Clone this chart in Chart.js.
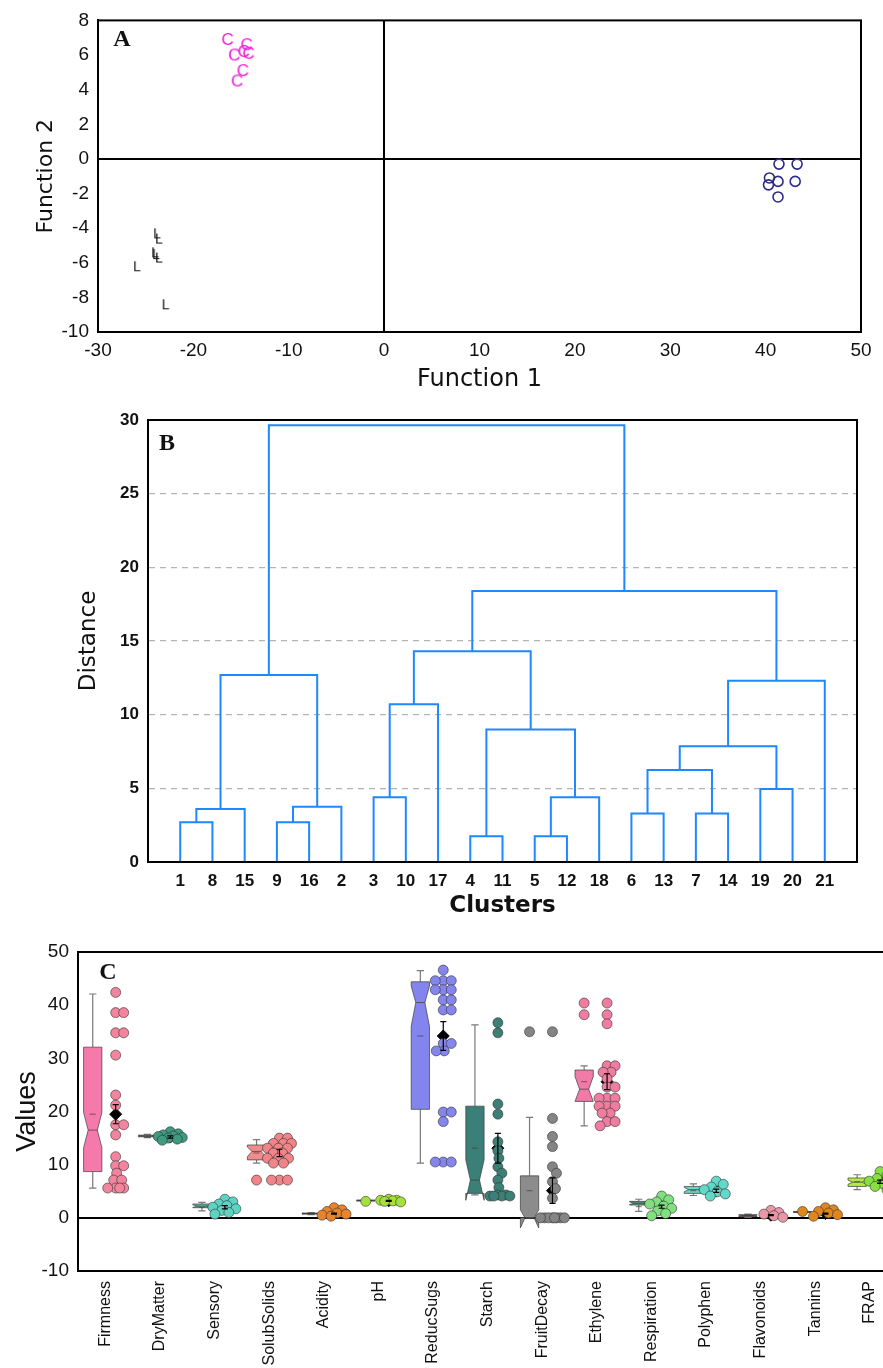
<!DOCTYPE html>
<html lang="en">
<head>
<meta charset="UTF-8">
<title>Discriminant scores, cluster tree and variable distributions</title>
<script src="https://cdn.jsdelivr.net/npm/chart.js"></script>
<style>
  html, body { margin: 0; padding: 0; background: #fff; }
  body { width: 883px; height: 1368px; overflow: hidden; position: relative; }
  .panel { position: absolute; left: 0; }
  .panel canvas { display: block; }
  #panelA { top: 0; }
  #panelB { top: 395px; }
  #panelC { top: 920px; }
</style>
</head>
<body>
<div class="panel" id="panelA"><canvas id="chartA" width="883" height="395"></canvas></div>
<div class="panel" id="panelB"><canvas id="chartB" width="883" height="525"></canvas></div>
<div class="panel" id="panelC"><canvas id="chartC" width="905" height="448"></canvas></div>

<script>
// ---------- Panel A: discriminant function scores ----------
const groupCX = [-16.4, -14.4, -14.2, -15.7, -14.7, -14.8, -15.4];
const groupCY = [6.9, 6.6, 6.1, 6.0, 6.2, 5.1, 4.5];
const groupLX = [-23.8, -23.6, -23.9, -23.6, -25.9, -22.9, -24.0];
const groupLY = [-4.3, -4.6, -5.5, -5.7, -6.2, -8.4, -5.4];
const groupOX = [41.4, 43.3, 40.4, 41.3, 40.3, 43.1, 41.3];
const groupOY = [-0.3, -0.3, -1.1, -1.3, -1.5, -1.3, -2.2];
const function1Ticks = [-30, -20, -10, 0, 10, 20, 30, 40, 50];
const function2Ticks = [-10, -8, -6, -4, -2, 0, 2, 4, 6, 8];

// ---------- Panel B: dendrogram ----------
const clusterOrder = ['1', '8', '15', '9', '16', '2', '3', '10', '17', '4', '11', '5', '12', '18', '6', '13', '7', '14', '19', '20', '21'];
const mergeLeft   = ['1', 'm0', '9', 'm2', 'm1', '3', 'm5', '4', '5', 'm8', 'm7', 'm6', '6', '7', 'm12', '19', 'm14', 'm16', 'm11', 'm4'];
const mergeRight  = ['8', '15', '16', '2', 'm3', '10', '17', '11', '12', '18', 'm9', 'm10', '13', '14', 'm13', '20', 'm15', '21', 'm17', 'm18'];
const mergeHeight = [2.7, 3.6, 2.7, 3.75, 12.7, 4.4, 10.7, 1.75, 1.75, 4.4, 9.0, 14.3, 3.3, 3.3, 6.25, 4.95, 7.85, 12.3, 18.4, 29.65];
const distanceTicks = [0, 5, 10, 15, 20, 25, 30];

// ---------- Panel C: box plots + dot swarms ----------
const categories = ['Firmness', 'DryMatter', 'Sensory', 'SolubSolids', 'Acidity', 'pH', 'ReducSugs', 'Starch',
                    'FruitDecay', 'Ethylene', 'Respiration', 'Polyphen', 'Flavonoids', 'Tannins', 'FRAP'];
const boxQ1       = [8.7, 15.25, 1.9, 10.9, 0.7, 3.15, 20.4, 4.6, 0.0, 21.9, 2.4, 4.6, 0.2, 1.0, 5.9];
const boxMedian   = [16.5, 15.4, 2.2, 12.5, 0.8, 3.25, 40.5, 7.1, 0.0, 24.2, 2.75, 5.3, 0.4, 1.1, 6.7];
const boxQ3       = [32.1, 15.55, 2.6, 13.7, 0.9, 3.35, 44.4, 21.0, 7.9, 27.8, 3.1, 5.9, 0.6, 1.2, 7.5];
const whiskerLow  = [5.6, 15.1, 1.3, 10.3, 0.6, 3.1, 10.3, 4.3, 0.0, 17.3, 1.2, 4.2, 0.1, 0.95, 5.3];
const whiskerHigh = [42.1, 15.7, 2.9, 14.7, 1.0, 3.4, 46.5, 36.3, 18.9, 28.6, 3.5, 6.4, 0.7, 1.25, 8.1];
const notchLow    = [13.2, 15.3, 1.95, 11.5, 0.75, 3.2, 36.0, 3.3, -1.9, 21.9, 2.5, 4.9, 0.3, 1.05, 6.3];
const notchHigh   = [19.8, 15.5, 2.45, 13.3, 0.85, 3.3, 43.6, 10.9, 1.5, 26.6, 3.0, 5.7, 0.5, 1.15, 7.1];
const meanValues  = [19.5, 15.2, 2.0, 12.2, 0.8, 3.2, 34.2, 13.1, 5.1, 25.6, 2.1, 5.1, 0.5, 0.8, 6.8];
const meanErrors  = [1.8, 0.2, 0.3, 0.7, 0.1, 0.1, 2.7, 2.8, 2.4, 1.5, 0.3, 0.3, 0.1, 0.1, 0.3];
const outlierCategory = [3, 5, 8, 9, 9, 13];
const outlierValues   = [7.1, 3.1, 35.0, 40.4, 38.2, 1.2];

const firmnessDots    = [42.4, 38.6, 38.6, 34.8, 34.8, 30.6, 23.1, 21.2, 17.5, 17.5, 15.6, 11.5, 9.8, 9.8, 8.4, 7.1, 7.1, 5.6, 5.6, 5.6, 5.6];
const dryMatterDots   = [16.2, 15.8, 15.6, 15.4, 15.3, 15.1, 15.0, 14.8, 14.6];
const sensoryDots     = [3.5, 3.0, 2.6, 2.3, 2.0, 1.7, 1.4, 1.0, 0.7];
const solubSolidsDots = [15.0, 15.0, 14.0, 14.0, 14.0, 13.1, 13.1, 13.1, 12.2, 12.2, 11.2, 11.2, 11.2, 10.3, 10.3, 7.1, 7.1, 7.1];
const acidityDots     = [1.9, 1.5, 1.2, 0.9, 0.7, 0.5, 0.3];
const phDots          = [3.5, 3.3, 3.3, 3.2, 3.1, 3.0];
const reducSugsDots   = [46.6, 44.6, 44.6, 44.6, 42.9, 42.9, 42.9, 41.0, 41.0, 39.1, 39.1, 32.8, 32.8, 31.4, 31.4, 19.9, 19.9, 18.1, 10.5, 10.5, 10.5];
const starchDots      = [36.7, 34.8, 21.4, 19.5, 14.3, 12.6, 11.2, 9.6, 8.4, 7.1, 5.7, 4.3, 4.3, 4.1, 4.1, 4.1, 4.1];
const fruitDecayDots  = [35.0, 18.7, 15.3, 13.4, 9.6, 8.4, 6.8, 5.5, 3.7, 0, 0, 0, 0, 0, 0, 0, 0];
const ethyleneDots    = [40.4, 38.2, 36.5, 28.6, 28.6, 27.4, 27.4, 26.2, 24.6, 24.6, 22.5, 22.5, 22.5, 21.0, 21.0, 21.0, 19.7, 19.7, 18.1, 18.1, 17.3];
const respirationDots = [4.1, 3.4, 3.0, 2.6, 2.2, 1.8, 1.3, 0.8, 0.4];
const polyphenDots    = [6.9, 6.3, 5.8, 5.3, 4.9, 4.5, 4.1];
const flavonoidsDots  = [1.4, 1.0, 0.7, 0.4, 0.1];
const tanninsDots     = [1.9, 1.5, 1.2, 0.9, 0.6, 0.3];
const frapDots        = [8.7, 8.0, 7.4, 6.9, 6.4, 5.9, 5.2];
const valueTicks = [-10, 0, 10, 20, 30, 40, 50];

const dotColors = ['#f2849e', '#3f9a80', '#5fd3c3', '#f08488', '#e8842e', '#a6e03c', '#8585ee', '#3b7f76',
                   '#858585', '#f07ca0', '#80e080', '#62d8c8', '#e897a8', '#e0861e', '#86e040'];
const boxColors = ['#f57aab', '#4a8c78', '#5cbfae', '#f08c8c', '#b06030', '#5a8a20', '#8484ee', '#3b8078',
                   '#8c8c8c', '#f27aa6', '#4e9c80', '#6cd4c4', '#8a4858', '#e09020', '#b4ec3c'];

const SANS = "'Liberation Sans', Arial, sans-serif";
const WIDE = "'DejaVu Sans', Verdana, sans-serif";
Chart.defaults.animation = false;
Chart.defaults.color = '#111';
Chart.defaults.font.family = SANS;

// frame around the plot area + panel letter
const panelDecor = {
  id: 'panelDecor',
  afterDraw(chart, args, opts) {
    const { ctx, chartArea: a } = chart;
    ctx.save();
    ctx.strokeStyle = '#000';
    ctx.lineWidth = 2;
    ctx.strokeRect(a.left, a.top, a.right - a.left, a.bottom - a.top);
    ctx.font = "bold 24px 'Liberation Serif', 'Times New Roman', serif";
    ctx.fillStyle = '#111';
    ctx.textAlign = 'center';
    ctx.textBaseline = 'middle';
    ctx.fillText(opts.letter, a.left + opts.dx, a.top + opts.dy);
    ctx.restore();
  }
};

function fixedTicks(values) {
  return scale => { scale.ticks = values.map(v => ({ value: v })); };
}

// small canvas with a letter, used as a point marker
function letterMarker(ch, color, size) {
  const c = document.createElement('canvas');
  c.width = size + 4; c.height = size + 4;
  const g = c.getContext('2d');
  g.font = size + 'px ' + SANS;
  g.fillStyle = color;
  g.textAlign = 'center';
  g.textBaseline = 'middle';
  g.fillText(ch, c.width / 2, c.height / 2 + 1);
  return c;
}

const zeroLine = ctx => ctx.tick.value === 0 ? '#000' : 'rgba(0,0,0,0)';

// ---------- chart A ----------
new Chart(document.getElementById('chartA'), {
  type: 'scatter',
  data: {
    datasets: [
      { data: groupCX.map((x, i) => ({ x, y: groupCY[i] })), pointStyle: letterMarker('C', '#f21ad8', 17), pointRadius: 9 },
      { data: groupLX.map((x, i) => ({ x, y: groupLY[i] })), pointStyle: letterMarker('L', '#111', 14), pointRadius: 8 },
      { data: groupOX.map((x, i) => ({ x, y: groupOY[i] })), pointStyle: 'circle', pointRadius: 5,
        borderColor: '#2b2b86', backgroundColor: 'rgba(0,0,0,0)', borderWidth: 1.6 }
    ]
  },
  options: {
    responsive: false,
    layout: { padding: { top: 17, right: 22, bottom: 0, left: 0 } },
    plugins: { legend: { display: false }, tooltip: { enabled: false },
               panelDecor: { letter: 'A', dx: 24, dy: 19 } },
    scales: {
      x: {
        type: 'linear', min: -30, max: 50,
        afterBuildTicks: fixedTicks(function1Ticks),
        afterFit: s => { s.height = 63; },
        grid: { color: zeroLine, lineWidth: 2, drawTicks: false },
        border: { color: '#000', width: 2 },
        ticks: { padding: 7, font: { size: 19 }, maxRotation: 0 },
        title: { display: true, text: 'Function 1', font: { family: WIDE, size: 24 }, padding: { top: 0, bottom: 1 } }
      },
      y: {
        min: -10, max: 8,
        afterBuildTicks: fixedTicks(function2Ticks),
        afterFit: s => { s.width = 98; },
        grid: { color: zeroLine, lineWidth: 2, drawTicks: false },
        border: { color: '#000', width: 2 },
        ticks: { padding: 9, font: { size: 19 } },
        title: { display: true, text: 'Function 2', font: { family: WIDE, size: 22 }, padding: { top: 33, bottom: 0 } }
      }
    }
  },
  plugins: [panelDecor]
});

// ---------- chart B ----------
const nodeX = {}, nodeH = {};
clusterOrder.forEach((lab, i) => { nodeX[lab] = i; nodeH[lab] = 0; });
const linkSets = mergeHeight.map((h, k) => {
  const l = mergeLeft[k], r = mergeRight[k];
  nodeX['m' + k] = (nodeX[l] + nodeX[r]) / 2;
  nodeH['m' + k] = h;
  return {
    data: [{ x: nodeX[l], y: nodeH[l] }, { x: nodeX[l], y: h }, { x: nodeX[r], y: h }, { x: nodeX[r], y: nodeH[r] }],
    showLine: true, borderColor: '#1e88ff', borderWidth: 2, pointRadius: 0, tension: 0
  };
});

new Chart(document.getElementById('chartB'), {
  type: 'scatter',
  data: { datasets: linkSets },
  options: {
    responsive: false,
    layout: { padding: { top: 25, right: 26, bottom: 0, left: 0 } },
    plugins: { legend: { display: false }, tooltip: { enabled: false },
               panelDecor: { letter: 'B', dx: 19, dy: 24 } },
    scales: {
      x: {
        type: 'linear', min: -1, max: 21,
        afterBuildTicks: fixedTicks(clusterOrder.map((_, i) => i)),
        afterFit: s => { s.height = 58; },
        grid: { display: false, drawTicks: false },
        border: { color: '#000', width: 2 },
        ticks: { padding: 9, font: { size: 17, weight: 'bold' }, maxRotation: 0, autoSkip: false,
                 callback: v => clusterOrder[v] },
        title: { display: true, text: 'Clusters', font: { family: WIDE, size: 23, weight: 'bold' }, padding: { top: 0, bottom: 0 } }
      },
      y: {
        min: 0, max: 30,
        afterBuildTicks: fixedTicks(distanceTicks),
        afterFit: s => { s.width = 148; },
        grid: { color: ctx => (ctx.tick.value > 0 && ctx.tick.value < 30) ? '#b4b4b4' : 'rgba(0,0,0,0)',
                lineWidth: 1.2, drawTicks: false },
        border: { color: '#000', width: 2, dash: [6, 5] },
        ticks: { padding: 9, font: { size: 17, weight: 'bold' } },
        title: { display: true, text: 'Distance', font: { family: WIDE, size: 23 }, padding: { top: 75, bottom: 0 } }
      }
    }
  },
  plugins: [panelDecor]
});

// ---------- chart C ----------
const dotSets = [firmnessDots, dryMatterDots, sensoryDots, solubSolidsDots, acidityDots, phDots, reducSugsDots,
                 starchDots, fruitDecayDots, ethyleneDots, respirationDots, polyphenDots, flavonoidsDots, tanninsDots, frapDots];
const BOX_SHIFT = -0.23, DOT_SHIFT = 0.19, BOX_WIDTH = 0.335, DOT_R = 5;

const boxPlots = {
  id: 'boxPlots',
  beforeDatasetsDraw(chart) {
    const { ctx } = chart;
    const xs = chart.scales.x, ys = chart.scales.y;
    const half = (xs.getPixelForValue(1) - xs.getPixelForValue(0)) * BOX_WIDTH / 2;
    ctx.save();
    categories.forEach((_, i) => {
      const cx = xs.getPixelForValue(i + BOX_SHIFT);
      const y = v => ys.getPixelForValue(v);
      const L = cx - half, R = cx + half, ind = half * 0.5;
      // whiskers
      ctx.strokeStyle = '#7a7a7a';
      ctx.lineWidth = 1.2;
      ctx.beginPath();
      ctx.moveTo(cx, y(whiskerHigh[i])); ctx.lineTo(cx, y(boxQ3[i]));
      ctx.moveTo(cx, y(whiskerLow[i])); ctx.lineTo(cx, y(boxQ1[i]));
      ctx.moveTo(cx - half * 0.4, y(whiskerHigh[i])); ctx.lineTo(cx + half * 0.4, y(whiskerHigh[i]));
      ctx.moveTo(cx - half * 0.4, y(whiskerLow[i])); ctx.lineTo(cx + half * 0.4, y(whiskerLow[i]));
      ctx.stroke();
      // notched box
      ctx.beginPath();
      ctx.moveTo(L, y(boxQ3[i]));
      ctx.lineTo(L, y(notchHigh[i]));
      ctx.lineTo(L + ind, y(boxMedian[i]));
      ctx.lineTo(L, y(notchLow[i]));
      ctx.lineTo(L, y(boxQ1[i]));
      ctx.lineTo(R, y(boxQ1[i]));
      ctx.lineTo(R, y(notchLow[i]));
      ctx.lineTo(R - ind, y(boxMedian[i]));
      ctx.lineTo(R, y(notchHigh[i]));
      ctx.lineTo(R, y(boxQ3[i]));
      ctx.closePath();
      ctx.fillStyle = boxColors[i];
      ctx.fill();
      ctx.strokeStyle = 'rgba(60,60,60,0.7)';
      ctx.lineWidth = 1;
      ctx.stroke();
      // median and mean marks
      ctx.beginPath();
      ctx.moveTo(L + ind, y(boxMedian[i])); ctx.lineTo(R - ind, y(boxMedian[i]));
      ctx.moveTo(cx - 3, y(meanValues[i])); ctx.lineTo(cx + 3, y(meanValues[i]));
      ctx.stroke();
    });
    ctx.restore();
  },
  afterDatasetsDraw(chart) {
    const { ctx } = chart;
    const xs = chart.scales.x, ys = chart.scales.y;
    ctx.save();
    ctx.strokeStyle = '#000';
    ctx.lineWidth = 1.2;
    categories.forEach((_, i) => {
      const cx = xs.getPixelForValue(i + DOT_SHIFT);
      const top = ys.getPixelForValue(meanValues[i] + meanErrors[i]);
      const bot = ys.getPixelForValue(meanValues[i] - meanErrors[i]);
      ctx.beginPath();
      ctx.moveTo(cx, top); ctx.lineTo(cx, bot);
      ctx.moveTo(cx - 3, top); ctx.lineTo(cx + 3, top);
      ctx.moveTo(cx - 3, bot); ctx.lineTo(cx + 3, bot);
      ctx.stroke();
    });
    ctx.restore();
  }
};

const dotDatasets = dotSets.map((vals, i) => ({
  data: vals.map(v => ({ x: i + DOT_SHIFT, y: v })),
  pointRadius: DOT_R, backgroundColor: dotColors[i], borderColor: 'rgba(50,50,50,0.75)', borderWidth: 0.8
}));

const chartC = new Chart(document.getElementById('chartC'), {
  type: 'scatter',
  data: {
    datasets: [
      ...dotDatasets,
      { data: outlierValues.map((v, k) => ({ x: outlierCategory[k] + BOX_SHIFT, y: v })),
        pointRadius: DOT_R, backgroundColor: outlierCategory.map(c => dotColors[c]),
        borderColor: 'rgba(50,50,50,0.75)', borderWidth: 0.8 },
      { data: meanValues.map((v, i) => ({ x: i + DOT_SHIFT, y: v })),
        pointStyle: 'rectRot', pointRadius: 6, backgroundColor: '#000', borderColor: '#000' }
    ]
  },
  options: {
    responsive: false,
    layout: { padding: { top: 32, right: 8, bottom: 0, left: 0 } },
    plugins: { legend: { display: false }, tooltip: { enabled: false },
               panelDecor: { letter: 'C', dx: 30, dy: 21 } },
    scales: {
      x: {
        type: 'linear', min: -0.5, max: 14.5,
        afterBuildTicks: fixedTicks(categories.map((_, i) => i)),
        afterFit: s => { s.height = 97; },
        grid: { display: false, drawTicks: false },
        border: { color: '#000', width: 2 },
        ticks: { padding: 10, font: { size: 16 }, minRotation: 90, maxRotation: 90, autoSkip: false,
                 callback: v => categories[v] }
      },
      y: {
        min: -10, max: 50,
        afterBuildTicks: fixedTicks(valueTicks),
        afterFit: s => { s.width = 78; },
        grid: { color: zeroLine, lineWidth: 2, drawTicks: false },
        border: { color: '#000', width: 2 },
        ticks: { padding: 9, font: { size: 19 } },
        title: { display: true, text: 'Values', font: { size: 27 }, padding: { top: 11, bottom: 0 } }
      }
    }
  },
  plugins: [boxPlots, panelDecor]
});

// spread dots sideways (beeswarm) once the scales are known
function swarmOffsets(vals, ys, minDist, maxSpread) {
  const placed = [];
  const out = new Array(vals.length);
  const order = vals.map((_, i) => i).sort((a, b) => vals[b] - vals[a]);
  order.forEach(i => {
    const py = ys.getPixelForValue(vals[i]);
    let best = 0, bestGap = -1;
    for (let s = 0; s <= maxSpread * 2; s++) {
      const cand = s === 0 ? 0 : (s % 2 ? 1 : -1) * Math.ceil(s / 2);
      const gap = placed.reduce((m, p) => Math.min(m, Math.hypot(p.x - cand, p.y - py)), Infinity);
      if (gap >= minDist) { best = cand; bestGap = gap; break; }
      if (gap > bestGap) { best = cand; bestGap = gap; }
    }
    placed.push({ x: best, y: py });
    out[i] = best;
  });
  return out;
}

(function () {
  const xs = chartC.scales.x, ys = chartC.scales.y;
  const unit = xs.getPixelForValue(1) - xs.getPixelForValue(0);
  dotSets.forEach((vals, i) => {
    const offs = swarmOffsets(vals, ys, DOT_R * 1.5, 12);
    chartC.data.datasets[i].data = vals.map((v, k) => ({ x: i + DOT_SHIFT + offs[k] / unit, y: v }));
  });
  chartC.update('none');
})();
</script>
</body>
</html>
